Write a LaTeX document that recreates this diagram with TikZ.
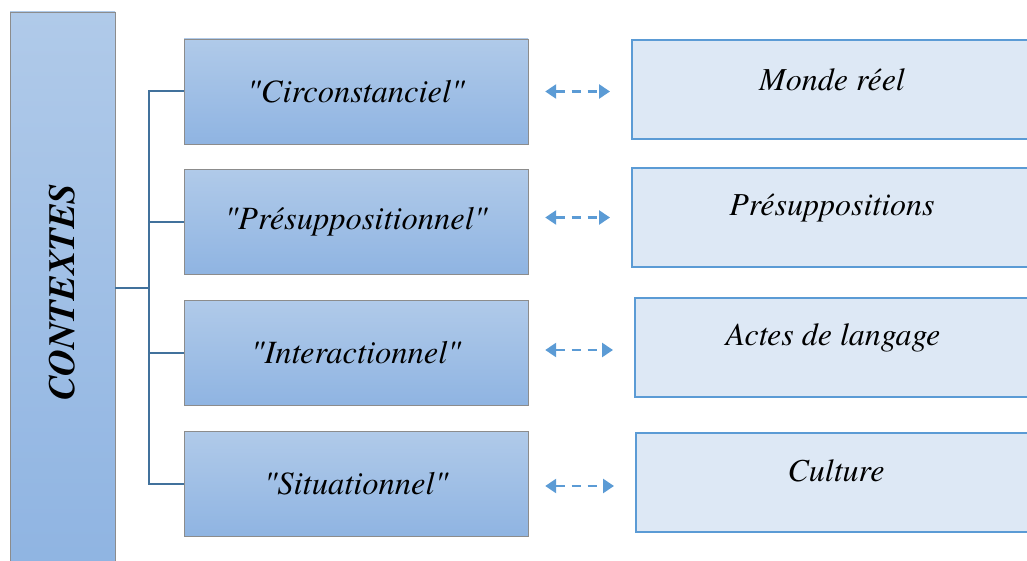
\documentclass[tikz,border=0pt]{standalone}
\usepackage{fontspec}
\newfontfamily\timesit{texgyretermes}[Extension=.otf, UprightFont=*-regular, ItalicFont=*-italic, BoldFont=*-bold, BoldItalicFont=*-bolditalic, Ligatures=TeXOff]
\usetikzlibrary{arrows.meta}
\definecolor{bluetop}{HTML}{B0CAE9}
\definecolor{bluebot}{HTML}{8FB4E2}
\definecolor{paleblue}{HTML}{DDE8F5}
\definecolor{edgeblue}{HTML}{5B9BD5}
\definecolor{linkblue}{HTML}{41719C}

\begin{document}
\begin{tikzpicture}[x=1pt, y=-1pt,
    ctxbar/.style={draw=black!45, top color=bluetop, bottom color=bluebot, minimum width=105pt, minimum height=560pt, inner sep=0pt},
    kindbox/.style={draw=black!45, top color=bluetop, bottom color=bluebot, minimum width=344pt, minimum height=105pt, inner sep=0pt, font=\timesit\fontsize{32.5}{38}\selectfont\itshape},
    refbox/.style={draw=edgeblue, line width=2pt, fill=paleblue, minimum width=400pt, minimum height=99pt, inner sep=0pt},
    reftext/.style={font=\timesit\fontsize{32}{38}\selectfont\itshape},
    conn/.style={draw=linkblue, line width=2pt},
    link/.style={draw=edgeblue, line width=2.6pt, dash pattern=on 9pt off 7pt, {Triangle[length=11pt,width=14pt]}-{Triangle[length=11pt,width=14pt]}, shorten <=17pt, shorten >=21pt}
    ]
    \useasboundingbox (0,0) rectangle (1027,561);
    \begin{scope}
    \clip (0,0) rectangle (1027,561);
    \node [ctxbar] (ctx) at (62.5,292) {\rotatebox{90}{\timesit\fontsize{37}{42}\selectfont\bfseries\itshape CONTEXTES}};

    \node [kindbox] (c1) at (356,91.5) {"Circonstanciel"};
    \node [kindbox] (c2) at (356,222) {"Présuppositionnel"};
    \node [kindbox] (c3) at (356,353) {"Interactionnel"};
    \node [kindbox] (c4) at (356,484) {"Situationnel"};

    \node [refbox] (r1) at (832,90) {};
    \node [refbox] (r2) at (832,217.5) {};
    \node [refbox] (r3) at (835,347.5) {};
    \node [refbox] (r4) at (836,482) {};
    \node [reftext] (t1) at (832,80) {Monde réel};
    \node [reftext] (t2) at (832,208) {Présuppositions};
    \node [reftext] (t3) at (833,338) {Actes de langage};
    \node [reftext] (t4) at (836,471) {Culture};
    \end{scope}

    \coordinate (hub) at (149,288);
    \draw [conn] (ctx.east |- hub) -- (hub);
    \draw [conn] (c1.west) -| (hub) |- (c4.west);
    \draw [conn] (c2.west) -- (c2.west -| hub);
    \draw [conn] (c3.west) -- (c3.west -| hub);

    \draw [link] (c1.east) -- (c1.east -| r1.west);
    \draw [link] (c2.east |- r2.center) -- (r2.west);
    \draw [link] (c3.east |- 0,350) -- (r3.west |- 0,350);
    \draw [link] (c4.east |- 0,486) -- (r4.west |- 0,486);
\end{tikzpicture}
\end{document}
